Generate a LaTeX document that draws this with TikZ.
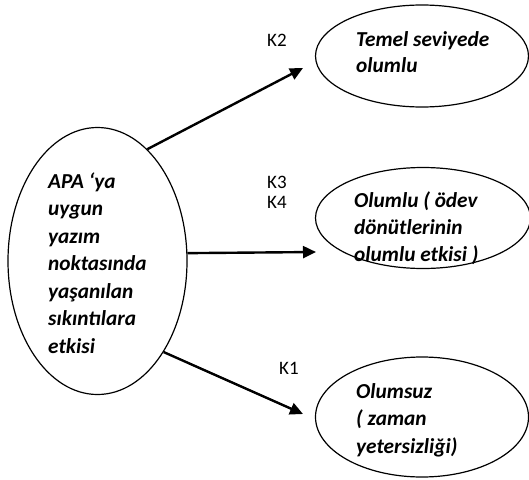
\documentclass[tikz,border=0pt]{standalone}
\usepackage{fontspec}
\setmainfont{Carlito}
\usetikzlibrary{arrows.meta, shapes.geometric}

\begin{document}
\begin{tikzpicture}[
		x=1pt, y=-1pt,
		bubble/.style={draw, ellipse, line width=1.2pt, inner sep=0pt},
		effect/.style={anchor=base west, inner sep=0pt, align=left, font=\fontsize{21.3}{#1}\selectfont\bfseries\itshape},
		code/.style={anchor=base west, inner sep=0pt, align=left, font=\fontsize{19}{20}\selectfont},
		link/.style={line width=2.4pt, -{Triangle[length=13pt, width=12pt]}}
		]
		\useasboundingbox (0,0) rectangle (529,479);
		
		% --- Source ---
		\node[bubble, minimum width=179pt, minimum height=267pt] (apa) at (97.5,261) {};
		\node[effect=27.5] (apatext) at (48,353) {APA ‘ya\\uygun\\yazım\\noktasında\\yaşanılan\\sıkıntılara\\etkisi};
		
		% --- Effects ---
		\node[bubble, minimum width=213pt, minimum height=102pt] (temel) at (422,56) {};
		\node[effect=26] (temeltext) at (356,72) {Temel seviyede\\olumlu};
		
		\node[bubble, minimum width=215pt, minimum height=101pt] (olumlu) at (423,218) {};
		\node[effect=27] (olumlutext) at (354,261) {Olumlu ( ödev\\dönütlerinin\\olumlu etkisi )};
		
		\node[bubble, minimum width=213pt, minimum height=120pt] (olumsuz) at (422,417) {};
		\node[effect=27.5] (olumsuztext) at (356,453) {Olumsuz\\( zaman\\yetersizliği)};
		
		% --- Codes ---
		\node[code] (k2) at (267,46) {K2};
		\node[code] (k34) at (267,208) {K3\\K4};
		\node[code] (k1) at (279,374) {K1};
		
		% Arrow tips
		\coordinate (tiptemel) at (303,68);
		\coordinate (tipolumlu) at (316,252);
		\coordinate (tipolumsuz) at (303,414);
		
		\draw[link] (apa.66) -- (tiptemel);
		\draw[link] (apa.5.7) -- (tipolumlu);
		\draw[link] (apa.-54.8) -- (tipolumsuz);
		
	\end{tikzpicture}
\end{document}
